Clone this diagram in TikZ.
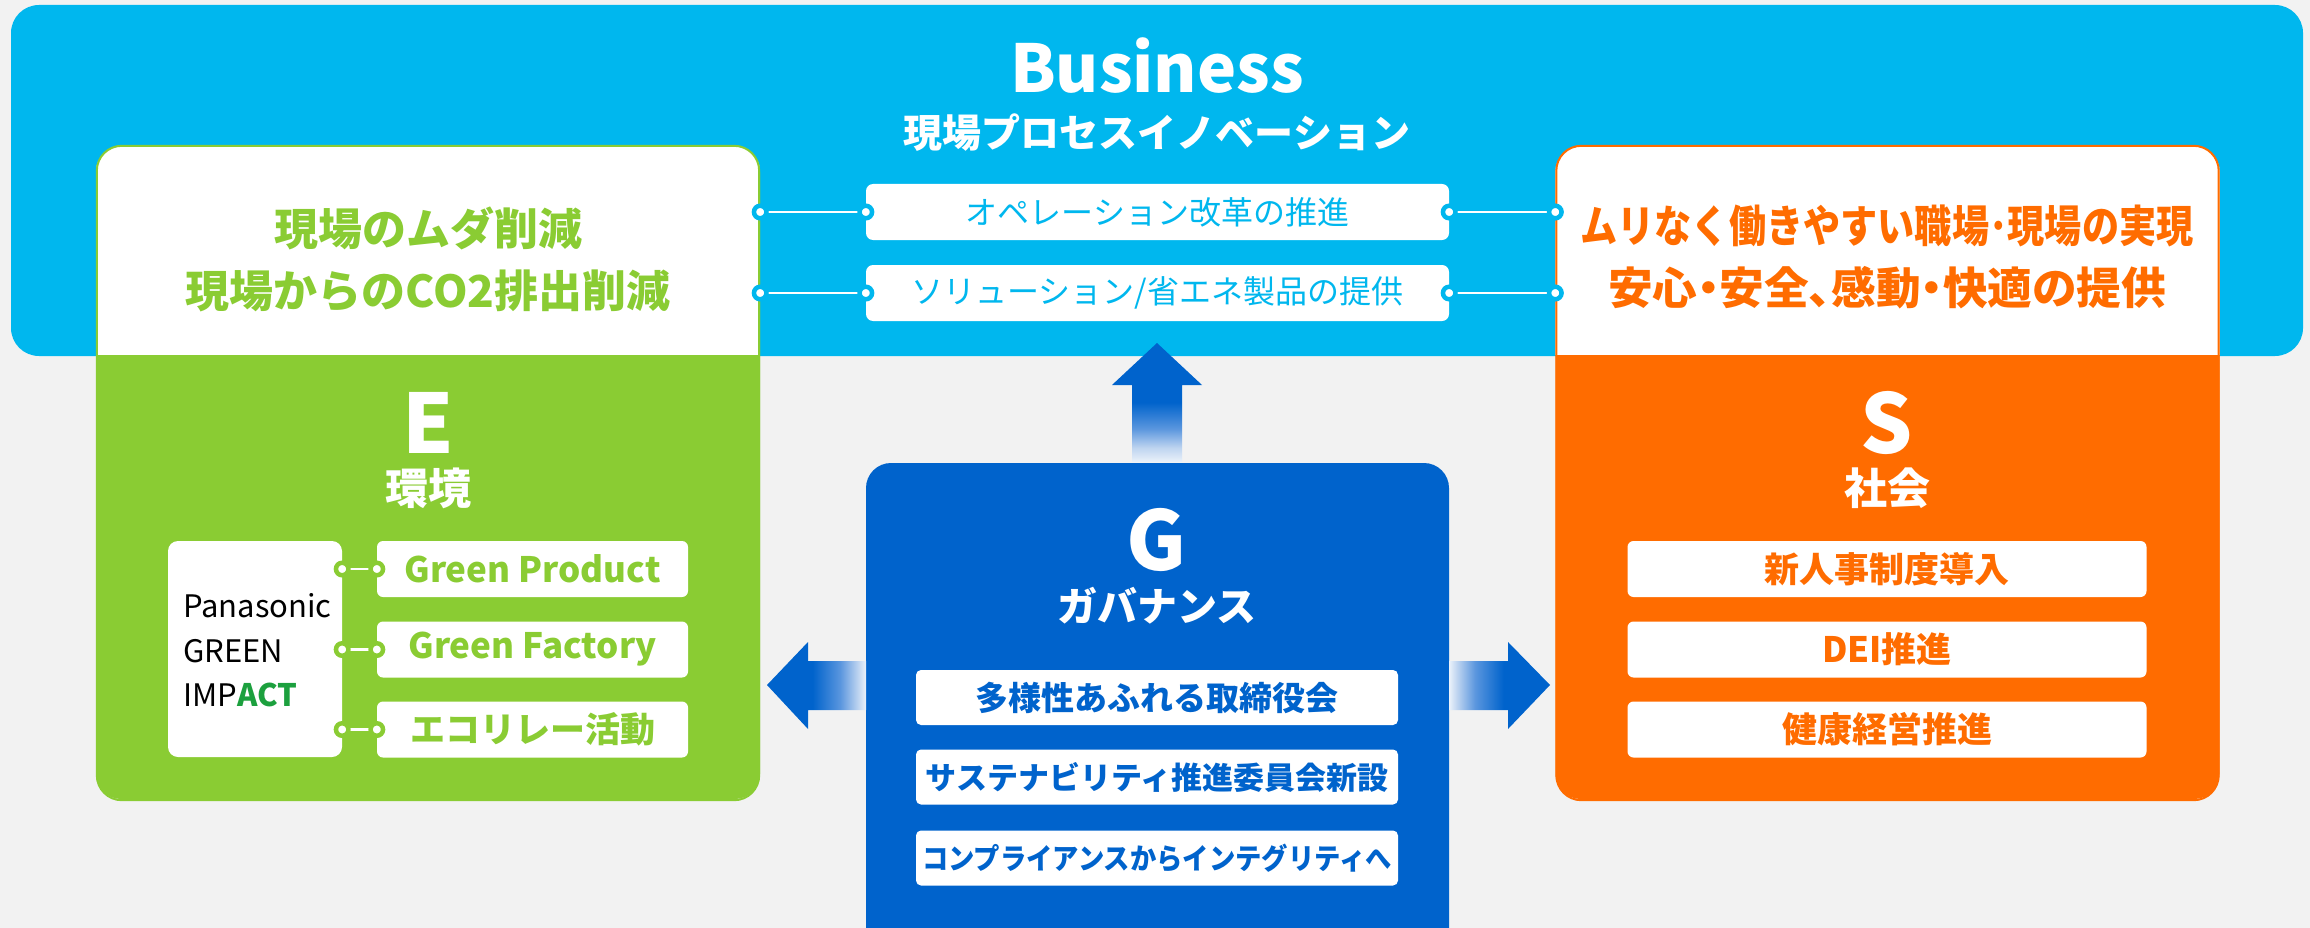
\documentclass[tikz,border=0pt]{standalone}
\usepackage{fontspec}
\setmainfont{Noto Sans CJK JP}
\newfontfamily\paltfont{Noto Sans CJK JP}[RawFeature=+palt]
\definecolor{bgray}{RGB}{242,242,242}
\definecolor{bizcyan}{RGB}{0,183,238}
\definecolor{egreen}{RGB}{138,204,51}
\definecolor{sorange}{RGB}{255,108,0}
\definecolor{gblue}{RGB}{0,99,204}
\definecolor{actgreen}{RGB}{28,160,62}
\definecolor{fadewhite}{RGB}{235,242,250}
\definecolor{fadelight}{RGB}{190,212,240}
\definecolor{fademid}{RGB}{90,150,222}
\newcommand\fsz[1]{\fontsize{#1}{#1}\selectfont}
\pgfdeclareverticalshading{upfade}{100bp}{color(0bp)=(fadewhite); color(25bp)=(fadewhite); color(31bp)=(fadelight); color(39bp)=(fademid); color(50bp)=(gblue); color(100bp)=(gblue)}
\pgfdeclarehorizontalshading{leftfade}{100bp}{color(0bp)=(gblue); color(48bp)=(gblue); color(62bp)=(fademid); color(71bp)=(fadelight); color(75bp)=(fadewhite); color(100bp)=(fadewhite)}
\pgfdeclarehorizontalshading{rightfade}{100bp}{color(0bp)=(fadewhite); color(25bp)=(fadewhite); color(29bp)=(fadelight); color(38bp)=(fademid); color(52bp)=(gblue); color(100bp)=(gblue)}
\tikzset{
  panel/.style={rounded corners=25, inner sep=0},
  opbox/.style={fill=white, rounded corners=7, inner sep=0, minimum width=583, minimum height=56, text=bizcyan, font=\fsz{32}},
  ebox/.style={fill=white, rounded corners=6, inner sep=0, minimum width=311, minimum height=56, text=egreen, font=\fsz{35}\bfseries},
  sbox/.style={fill=white, rounded corners=6, inner sep=0, minimum width=519, minimum height=56, text=sorange, font=\fsz{35}\bfseries},
  gbox/.style={fill=white, rounded corners=5, inner sep=0, minimum width=482, minimum height=55, text=gblue, font=\bfseries},
  cdot/.style={circle, draw=bizcyan, fill=white, line width=4.5, minimum size=12.5, inner sep=0},
  gdot/.style={circle, draw=egreen, fill=white, line width=4.5, minimum size=12.5, inner sep=0},
  conn/.style={white, line width=2.5},
  bigletter/.style={white, font=\fsz{82}\bfseries, anchor=base, inner sep=0},
  panelname/.style={white, font=\fsz{43}\bfseries, inner sep=0},
  pgitext/.style={anchor=base west, font=\fsz{31}, inner sep=0, text=black},
}
\begin{document}
\begin{tikzpicture}[x=1pt, y=-1pt]
\useasboundingbox (0,0) rectangle (2310,928);
\clip (0,0) rectangle (2310,928);
\fill[bgray] (0,0) rectangle (2310,928);

% Business
\node[fill=bizcyan, rounded corners=28, minimum width=2292, minimum height=351, inner sep=0] (biz) at (1157,180.5) {};
\node[white, font=\fsz{66}\bfseries, anchor=base, inner sep=0] (biztitle) at (1157,93) {Business};
\node[white, font=\fsz{39}\bfseries, inner sep=0] (bizsub) at (1157,133) {現場プロセスイノベーション};

\node[opbox] (op1) at (1157.5,212) {オペレーション改革の推進};
\node[opbox] (op2) at (1157.5,293) {ソリューション/省エネ製品の提供};

% E panel
\node[panel, fill=egreen, minimum width=664, minimum height=652] (Ep) at (428,473) {};
\begin{scope}
  \clip[rounded corners=25] (Ep.north west) rectangle (Ep.south east);
  \fill[white] (Ep.north west) rectangle (760,355);
\end{scope}
\draw[egreen, line width=2, rounded corners=25] ([shift={(1,-1)}]Ep.north west) rectangle ([shift={(-1,1)}]Ep.south east);
\node[text=egreen, font=\fontsize{44}{62}\selectfont\bfseries, align=center, inner sep=0] (Etext) at (428,259) {現場のムダ削減\\現場からのCO2排出削減};
\node[bigletter] (Eletter) at (428,453) {E};
\node[panelname] (Ename) at (428,488) {環境};
\node[fill=white, rounded corners=10, minimum width=174, minimum height=216, inner sep=0] (pgi) at (255,649) {};
\node[pgitext] (pgi1) at (183,617) {Panasonic};
\node[pgitext] (pgi2) at (183,662) {GREEN};
\node[pgitext] (pgi3) at (183,706) {IMP\textcolor{actgreen}{\bfseries ACT}};
\node[ebox] (e1) at (532.5,569) {Green Product};
\node[ebox] (e2) at (532.5,649.5) {Green Factory};
\node[ebox] (e3) at (532.5,729.5) {エコリレー活動};

% S panel
\node[panel, fill=sorange, minimum width=664, minimum height=652] (Sp) at (1887.5,473) {};
\begin{scope}
  \clip[rounded corners=25] (Sp.north west) rectangle (Sp.south east);
  \fill[white] (Sp.north west) rectangle (2220,355);
\end{scope}
\draw[sorange, line width=2, rounded corners=25] ([shift={(1,-1)}]Sp.north west) rectangle ([shift={(-1,1)}]Sp.south east);
\node[text=sorange, font=\fontsize{44}{62}\selectfont\bfseries, align=center, inner sep=0] (Stext) at (1887,257) {\resizebox{613pt}{\height}{ムリなく働きやすい職場･現場の実現}\\\resizebox{558pt}{\height}{\paltfont\bfseries 安心・安全、感動・快適の提供}};
\node[bigletter] (Sletter) at (1887,453) {S};
\node[panelname] (Sname) at (1887,488) {社会};
\node[sbox] (s1) at (1887,569) {新人事制度導入};
\node[sbox] (s2) at (1887,649.5) {DEI推進};
\node[sbox] (s3) at (1887,729.5) {健康経営推進};

% Business connectors
\coordinate (l1) at (Ep.east |- op1);
\coordinate (l2) at (Ep.east |- op2);
\coordinate (r1) at (Sp.west |- op1);
\coordinate (r2) at (Sp.west |- op2);
\draw[conn] (l1) -- (op1.west);
\draw[conn] (l2) -- (op2.west);
\draw[conn] (op1.east) -- (r1);
\draw[conn] (op2.east) -- (r2);
\foreach \c in {l1,l2,r1,r2} {\node[cdot] at (\c) {};}
\node[cdot] at (op1.west) {};
\node[cdot] at (op2.west) {};
\node[cdot] at (op1.east) {};
\node[cdot] at (op2.east) {};

% GREEN IMPACT connectors
\foreach \i in {1,2,3} {
  \coordinate (ga\i) at (pgi.east |- e\i);
  \draw[conn] (ga\i) -- (e\i.west);
  \node[gdot] at (ga\i) {};
  \node[gdot] at (e\i.west) {};
}

% G panel
\node[panel, fill=gblue, minimum width=583, minimum height=520] (Gp) at (1157.5,723) {};
\node[bigletter] (Gletter) at (1157,570) {G};
\node[white, font=\fsz{40}\bfseries, inner sep=0] (Gname) at (1157,606) {ガバナンス};
\node[gbox, font=\fsz{33}\bfseries] (g1) at (1157,697.5) {多様性あふれる取締役会};
\node[gbox, font=\fsz{31}\bfseries] (g2) at (1157,777) {サステナビリティ推進委員会新設};
\node[gbox, font=\fsz{29}\bfseries] (g3) at (1157,858) {\resizebox{470pt}{\height}{コンプライアンスからインテグリティへ}};

% block arrows
\shade[shading=upfade] (1157,343) -- (1202,385) -- (1182,385) -- (1182,462) -- (1132,462) -- (1132,385) -- (1112,385) -- cycle;
\shade[shading=leftfade] (767,685) -- (808,642) -- (808,661) -- (866,661) -- (866,710) -- (808,710) -- (808,729) -- cycle;
\shade[shading=rightfade] (1550,685) -- (1508,642) -- (1508,661) -- (1449,661) -- (1449,710) -- (1508,710) -- (1508,729) -- cycle;
\end{tikzpicture}
\end{document}
